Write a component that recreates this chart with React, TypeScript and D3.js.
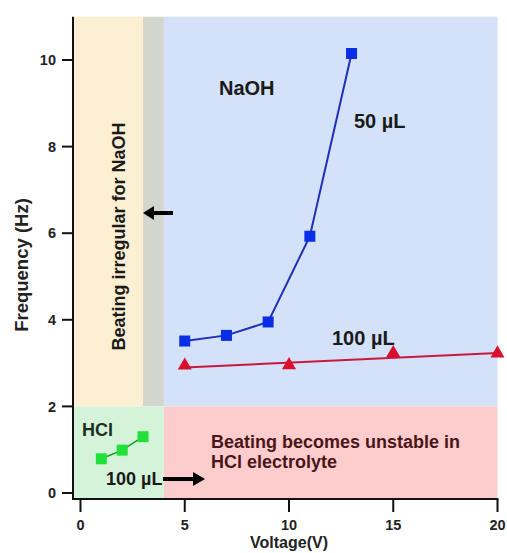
import React from 'react';
import * as d3 from 'd3';

// 50 µL NaOH
const naoh50X = [5, 7, 9, 11, 13];
const naoh50Y = [3.51, 3.64, 3.95, 5.93, 10.15];
// 100 µL NaOH
const naoh100X = [5, 10, 15, 20];
const naoh100Y = [2.92, 2.93, 3.21, 3.2];
// 100 µL HCl
const hclX = [1, 2, 3];
const hclY = [0.79, 0.99, 1.3];

const xTicks = [0, 5, 10, 15, 20];
const yTicks = [0, 2, 4, 6, 8, 10];

const FONT = "'Liberation Sans', Arial, sans-serif";

const App = () => {
  const width = 507;
  const height = 553;

  // scales
  const x = d3.scaleLinear().domain([0, 20]).range([80.5, 497.5]);
  const y = d3.scaleLinear().domain([0, 10]).range([493, 60]);

  const axisX = 73; // y axis line sits a bit left of x=0
  const axisY = 499; // x axis line sits a bit below y=0
  const top = y(11);
  const right = x(20);

  const line = d3.line<[number, number]>()
    .x(d => x(d[0]))
    .y(d => y(d[1]));

  const pts50: [number, number][] = naoh50X.map((v, i) => [v, naoh50Y[i]]);
  const pts100: [number, number][] = naoh100X.map((v, i) => [v, naoh100Y[i]]);
  const ptsHcl: [number, number][] = hclX.map((v, i) => [v, hclY[i]]);

  // least squares line for 100 µL points
  const mx = d3.mean(naoh100X)!;
  const my = d3.mean(naoh100Y)!;
  const sxy = d3.sum(naoh100X, (v, i) => (v - mx) * (naoh100Y[i] - my));
  const sxx = d3.sum(naoh100X, v => (v - mx) * (v - mx));
  const slope = sxy / sxx;
  const fit: [number, number][] = [
    [naoh100X[0], my + slope * (naoh100X[0] - mx)],
    [naoh100X[3], my + slope * (naoh100X[3] - mx)],
  ];

  const tri = d3.symbol().type(d3.symbolTriangle).size(85)()!;

  return (
    <svg width={width} height={height} style={{ position: 'absolute', left: 0, top: 0 }}
      fontFamily={FONT} fontWeight="bold">
      <rect width={width} height={height} fill="#fff" />

      {/* background regions */}
      <rect x={axisX} y={top} width={x(3) - axisX} height={y(2) - top} fill="#fdefd2" />
      <rect x={x(3)} y={top} width={x(4) - x(3)} height={y(2) - top} fill="#d3d6cd" />
      <rect x={x(4)} y={top} width={right - x(4)} height={y(2) - top} fill="#d3e1f9" />
      <rect x={axisX} y={y(2)} width={x(4) - axisX} height={axisY - y(2)} fill="#d5f3d9" />
      <rect x={x(4)} y={y(2)} width={right - x(4)} height={axisY - y(2)} fill="#fdcdcd" />

      {/* axes */}
      <line x1={axisX} x2={axisX} y1={top} y2={axisY + 1} stroke="#111" strokeWidth={2} />
      <line x1={axisX - 1} x2={right + 1} y1={axisY} y2={axisY} stroke="#111" strokeWidth={2} />
      {yTicks.map(t => (
        <g key={'y' + t}>
          <line x1={axisX - 11} x2={axisX} y1={y(t)} y2={y(t)} stroke="#111" strokeWidth={2} />
          <text x={axisX - 17} y={y(t)} dy="0.36em" textAnchor="end" fontSize={14.5} fill="#222">{t}</text>
        </g>
      ))}
      {xTicks.map(t => (
        <g key={'x' + t}>
          <line x1={x(t)} x2={x(t)} y1={axisY} y2={axisY + 13} stroke="#111" strokeWidth={2} />
          <text x={x(t)} y={530} textAnchor="middle" fontSize={14.5} fill="#222">{t}</text>
        </g>
      ))}
      <text x={x(10)} y={548} textAnchor="middle" fontSize={16} fill="#222">Voltage(V)</text>
      <text transform={`translate(28,265) rotate(-90)`} textAnchor="middle" fontSize={18.5} fill="#222">Frequency (Hz)</text>

      {/* series */}
      <path d={line(pts50)!} fill="none" stroke="#1f2fb8" strokeWidth={2} />
      {pts50.map((d, i) => (
        <rect key={'s' + i} x={x(d[0]) - 5.5} y={y(d[1]) - 5.5} width={11} height={11} fill="#0a2ee6" />
      ))}
      <path d={line(fit)!} fill="none" stroke="#c8193c" strokeWidth={2} />
      {pts100.map((d, i) => (
        <path key={'t' + i} d={tri} transform={`translate(${x(d[0])},${y(d[1]) - 1})`} fill="#d8102e" />
      ))}
      <path d={line(ptsHcl)!} fill="none" stroke="#119a2a" strokeWidth={1.5} />
      {ptsHcl.map((d, i) => (
        <rect key={'g' + i} x={x(d[0]) - 5.5} y={y(d[1]) - 5.5} width={11} height={11} fill="#22e03a" />
      ))}

      {/* annotations */}
      <text x={219} y={95} fontSize={20} fill="#1a1a1a">NaOH</text>
      <text x={354} y={128} fontSize={20} fill="#1a1a1a">50 µL</text>
      <text x={332} y={345} fontSize={20} fill="#1a1a1a">100 µL</text>
      <text transform={`translate(124.5,236.5) rotate(-90)`} textAnchor="middle" fontSize={18} fill="#1a1a1a">Beating irregular for NaOH</text>
      <text x={82} y={435.5} fontSize={18} fill="#1b2e22">HCl</text>
      <text x={106} y={485} fontSize={18} fill="#1a1a1a">100 µL</text>
      <text x={211} y={447.5} fontSize={18} fill="#4a1518">Beating becomes unstable in</text>
      <text x={211} y={467.5} fontSize={18} fill="#4a1518">HCl electrolyte</text>

      {/* arrows */}
      <line x1={173} x2={152} y1={213} y2={213} stroke="#000" strokeWidth={4} />
      <path d="M143,213 L154,206 L154,220 Z" fill="#000" />
      <line x1={163} x2={194} y1={479} y2={479} stroke="#000" strokeWidth={4} />
      <path d="M205,479 L193,472 L193,486 Z" fill="#000" />
    </svg>
  );
};

export default App;
